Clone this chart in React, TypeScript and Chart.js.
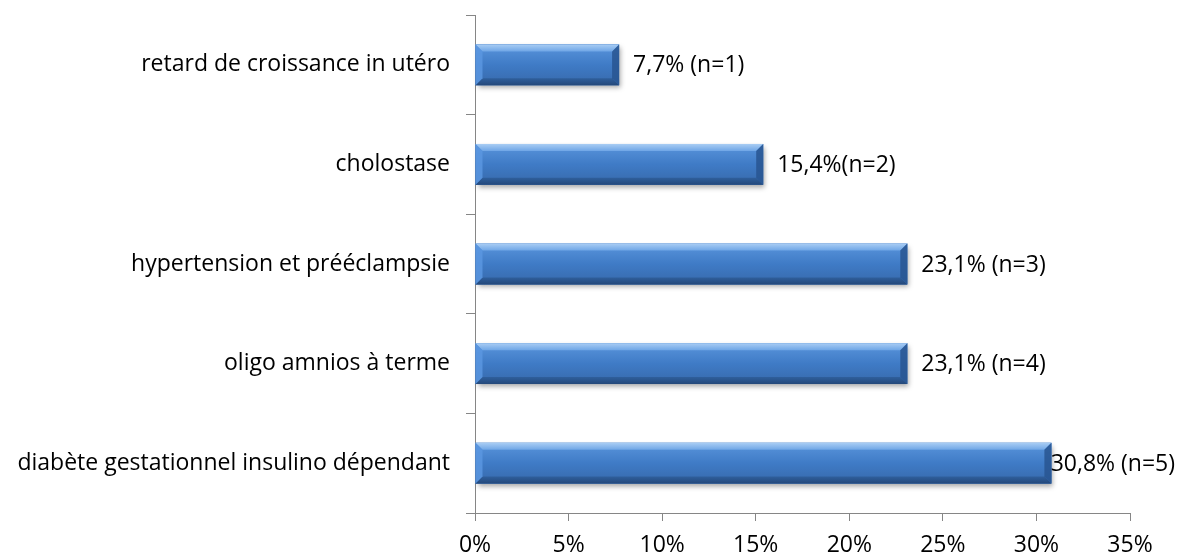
import React, { useEffect, useRef } from "react";
import { Chart, registerables } from "chart.js";

Chart.register(...registerables);

const categories = [
  "retard de croissance in utéro",
  "cholostase",
  "hypertension et prééclampsie",
  "oligo amnios à terme",
  "diabète gestationnel insulino dépendant",
];
const values = [7.7, 15.4, 23.1, 23.1, 30.8];
const valueLabels = ["7,7% (n=1)", "15,4%(n=2)", "23,1% (n=3)", "23,1% (n=4)", "30,8% (n=5)"];
const xTicks = [0, 5, 10, 15, 20, 25, 30, 35];

const FONT = "'Open Sans', 'Noto Sans', sans-serif";
const FS = 23;

const bevelPlugin = {
  id: "bevelBars",
  beforeDatasetsDraw(chart: any) {
    const ctx = chart.ctx;
    const meta = chart.getDatasetMeta(0);
    ctx.save();
    meta.data.forEach((el: any) => {
      const { x, y, base, height } = el.getProps(["x", "y", "base", "height"], true);
      const top = y - height / 2;
      ctx.save();
      ctx.shadowColor = "rgba(0,0,0,0.35)";
      ctx.shadowBlur = 5;
      ctx.shadowOffsetX = 2;
      ctx.shadowOffsetY = 3;
      ctx.fillStyle = "#3a6fb0";
      ctx.fillRect(base, top, x - base, height);
      ctx.restore();
    });
    ctx.restore();
  },
  afterDatasetsDraw(chart: any) {
    const ctx = chart.ctx;
    const meta = chart.getDatasetMeta(0);
    ctx.save();
    meta.data.forEach((el: any) => {
      const { x, y, base, height } = el.getProps(["x", "y", "base", "height"], true);
      const l = base, r = x, t = y - height / 2, b = y + height / 2;
      const bv = 7;
      const g = ctx.createLinearGradient(0, t, 0, b);
      g.addColorStop(0, "#5a95dc");
      g.addColorStop(0.5, "#3f7bc6");
      g.addColorStop(1, "#3769ab");
      ctx.fillStyle = g;
      ctx.fillRect(l, t, r - l, b - t);
      const poly = (pts: number[][], fill: any) => {
        ctx.beginPath();
        ctx.moveTo(pts[0][0], pts[0][1]);
        for (let i = 1; i < pts.length; i++) ctx.lineTo(pts[i][0], pts[i][1]);
        ctx.closePath();
        ctx.fillStyle = fill;
        ctx.fill();
      };
      const gt = ctx.createLinearGradient(0, t, 0, t + bv);
      gt.addColorStop(0, "#a9cdf4");
      gt.addColorStop(1, "#6fa6e6");
      poly([[l, t], [r, t], [r - bv, t + bv], [l + bv, t + bv]], gt);
      const gb = ctx.createLinearGradient(0, b - bv, 0, b);
      gb.addColorStop(0, "#2f5f9c");
      gb.addColorStop(1, "#24487a");
      poly([[l, b], [r, b], [r - bv, b - bv], [l + bv, b - bv]], gb);
      poly([[l, t], [l + bv, t + bv], [l + bv, b - bv], [l, b]], "rgba(90,150,225,0.85)");
      poly([[r, t], [r - bv, t + bv], [r - bv, b - bv], [r, b]], "rgba(40,85,145,0.85)");
    });
    // value labels
    ctx.font = `${FS}px ${FONT}`;
    ctx.fillStyle = "#000";
    ctx.textBaseline = "middle";
    ctx.textAlign = "left";
    meta.data.forEach((el: any, i: number) => {
      const { x, y } = el.getProps(["x", "y"], true);
      const txt = valueLabels[i];
      const w = ctx.measureText(txt).width;
      let tx = x + 14;
      if (tx + w > chart.width - 2) tx = chart.width - 2 - w;
      ctx.fillText(txt, tx, y + 1);
    });
    ctx.restore();
  },
};

export default function App() {
  const ref = useRef<HTMLCanvasElement>(null);
  useEffect(() => {
    if (!ref.current) return;
    const chart = new Chart(ref.current, {
      type: "bar",
      data: {
        labels: categories,
        datasets: [
          {
            data: values,
            backgroundColor: "rgba(0,0,0,0)",
            barPercentage: 1,
            categoryPercentage: 0.41,
          },
        ],
      },
      options: {
        indexAxis: "y",
        animation: false,
        responsive: true,
        maintainAspectRatio: false,
        layout: { padding: { top: 15, right: 47, left: 0, bottom: 0 } },
        plugins: { legend: { display: false }, tooltip: { enabled: false } },
        scales: {
          x: {
            min: 0,
            max: 35,
            afterBuildTicks: (axis: any) => {
              axis.ticks = xTicks.map((v) => ({ value: v }));
            },
            afterFit: (axis: any) => {
              axis.height = 46;
              axis.paddingLeft = 0;
              axis.paddingRight = 0;
            },
            grid: {
              drawOnChartArea: false,
              drawTicks: true,
              tickLength: 8,
              color: "#868686",
            },
            border: { color: "#868686" },
            ticks: {
              callback: (v: any) => v + "%",
              color: "#000",
              font: { family: FONT, size: FS },
              padding: 11,
              maxRotation: 0,
            },
          },
          y: {
            afterFit: (axis: any) => {
              axis.width = 475;
              axis.paddingTop = 0;
              axis.paddingBottom = 0;
            },
            grid: {
              drawOnChartArea: false,
              drawTicks: true,
              tickLength: 9,
              offset: true,
              color: "#868686",
            },
            border: { color: "#868686" },
            ticks: {
              color: "#000",
              font: { family: FONT, size: FS },
              padding: 16,
            },
          },
        },
      },
      plugins: [bevelPlugin],
    });
    return () => chart.destroy();
  }, []);
  return (
    <div style={{ position: "absolute", left: 0, top: 0, width: 1177, height: 559, background: "#fff" }}>
      <canvas ref={ref} />
    </div>
  );
}
